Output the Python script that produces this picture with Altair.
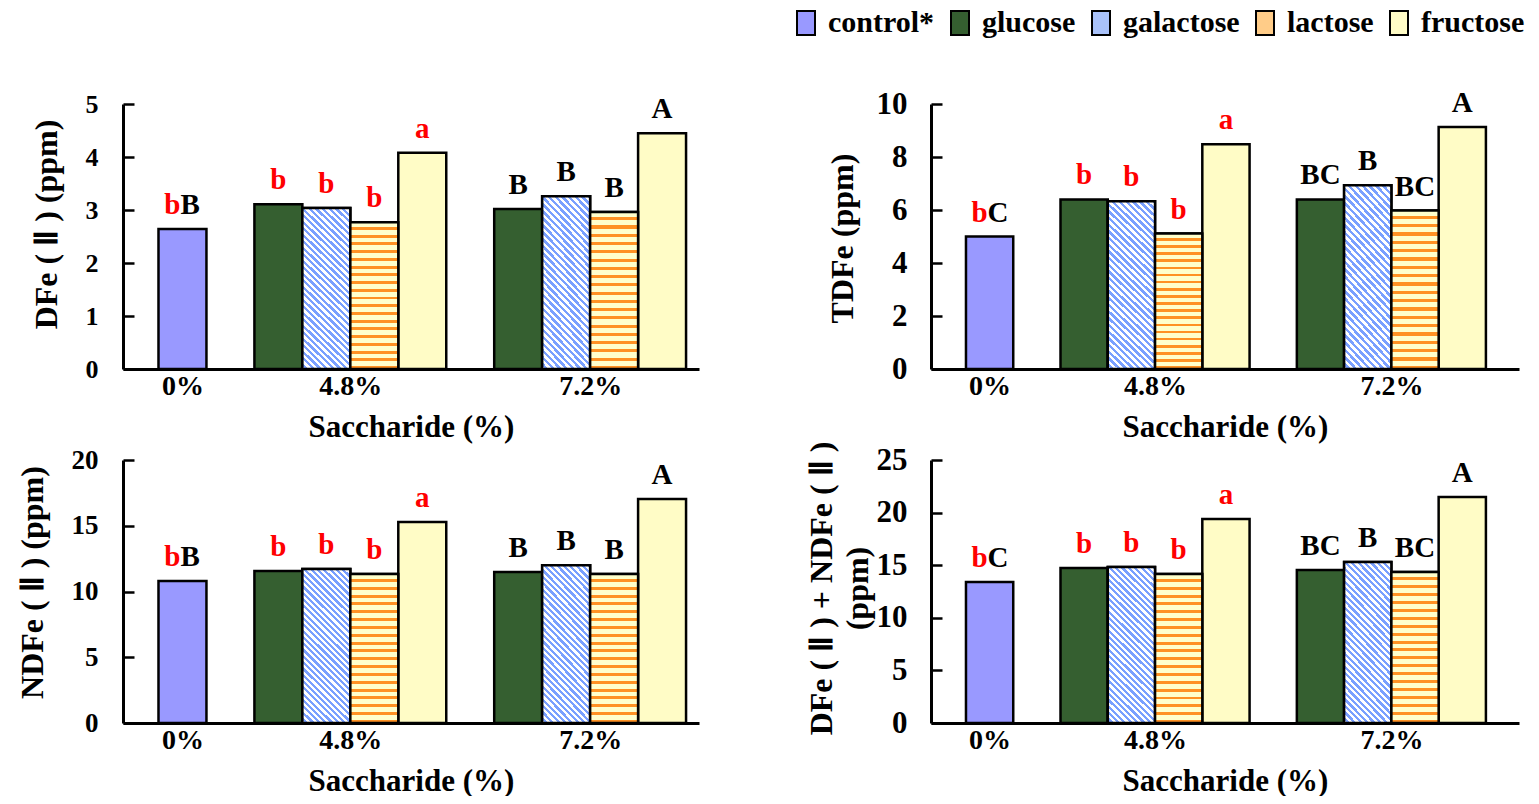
import json
import altair as alt
import pandas as pd

# ---------------- data ----------------
groups = ["0%", "4.8%", "7.2%"]
sugars = ["glucose", "galactose", "lactose", "fructose"]
series = ["control*"] + sugars

dfe_control, dfe_48, dfe_72 = 2.64, [3.11, 3.04, 2.77, 4.08], [3.02, 3.26, 2.96, 4.45]
tdfe_control, tdfe_48, tdfe_72 = 5.00, [6.40, 6.33, 5.11, 8.48], [6.40, 6.93, 5.98, 9.13]
ndfe_control, ndfe_48, ndfe_72 = 10.80, [11.56, 11.71, 11.33, 15.28], [11.48, 12.00, 11.33, 17.03]
sum_control, sum_48, sum_72 = 13.40, [14.73, 14.83, 14.16, 19.39], [14.54, 15.30, 14.35, 21.48]

dfe_let_c, dfe_let_48, dfe_let_72 = ("b", "B"), ["b", "b", "b", "a"], ["B", "B", "B", "A"]
tdfe_let_c, tdfe_let_48, tdfe_let_72 = ("b", "C"), ["b", "b", "b", "a"], ["BC", "B", "BC", "A"]
ndfe_let_c, ndfe_let_48, ndfe_let_72 = ("b", "B"), ["b", "b", "b", "a"], ["B", "B", "B", "A"]
sum_let_c, sum_let_48, sum_let_72 = ("b", "C"), ["b", "b", "b", "a"], ["BC", "B", "BC", "A"]

# ---------------- style ----------------
FONT = "Liberation Serif"
colors = ["#9999FF", "#355F30", "#A9C2FA", "#FFCC88", "#FFFCC6"]


def stripes(light, dark, n, frac_dark):
    stops = []
    for i in range(n):
        a = i / n
        b = (i + 1 - frac_dark) / n
        c = (i + 1) / n
        stops += [alt.GradientStop(color=light, offset=a), alt.GradientStop(color=light, offset=b),
                  alt.GradientStop(color=dark, offset=b), alt.GradientStop(color=dark, offset=c)]
    return stops


lactose_fill = alt.LinearGradient(gradient="linear", stops=stripes("#FFFFCC", "#FF9224", 19, 0.38),
                                  x1=0, y1=0, x2=0, y2=1)


def galactose_fill(r):
    k = (r + 1) / (r * r + 1)
    return alt.LinearGradient(gradient="linear", stops=stripes("#FFFFFF", "#7AA0FF", 32, 0.5),
                              x1=0, y1=1, x2=k * r, y2=1 - k)


slot_expr = (
    f"datum.group == {json.dumps(groups[0])} ? 0 : "
    f"2 + 5 * (indexof({json.dumps(groups)}, datum.group) - 1) + indexof({json.dumps(sugars)}, datum.series)"
)
label_pos = [0, 3.5, 8.5]
label_expr = " : ".join(f"datum.value == {p} ? {json.dumps(g)}" for p, g in zip(label_pos[:-1], groups[:-1])) \
    + f" : {json.dumps(groups[-1])}"


def make_df(c, v48, v72, lc, l48, l72):
    rows = [dict(group=groups[0], series=series[0], value=c, lower=lc[0], upper=lc[1])]
    for s, v, l in zip(sugars, v48, l48):
        rows.append(dict(group=groups[1], series=s, value=v, lower=l, upper=""))
    for s, v, l in zip(sugars, v72, l72):
        rows.append(dict(group=groups[2], series=s, value=v, lower="", upper=l))
    return pd.DataFrame(rows)


def panel(df, ymax, ystep, ytitle, W, H, xmax, tX, tY, gal_r, ylab_size, ylab_pad, legend=False):
    yvals = list(range(0, ymax + 1, ystep))
    yscale = alt.Scale(domain=[0, ymax], nice=False, zero=True, padding=0)
    xscale = alt.Scale(domain=[-1.24, xmax], nice=False, zero=False, padding=0)
    base = alt.Chart(df).transform_calculate(slot=slot_expr).transform_calculate(
        lo="datum.slot - 0.5", hi="datum.slot + 0.5", lab="datum.lower + datum.upper")

    xaxis = alt.Axis(values=label_pos, labelExpr=label_expr, ticks=False, domainColor="black", domainWidth=3,
                     labelFont=FONT, labelFontSize=28, labelFontWeight="bold", labelColor="black",
                     labelPadding=3, labelFlush=False, grid=False,
                     title="Saccharide (%)", titleFont=FONT, titleFontSize=31, titleFontWeight="bold",
                     titleColor="black", titlePadding=12)
    yaxis = alt.Axis(values=yvals, ticks=False, domainColor="black", domainWidth=3, grid=False,
                     labelFont=FONT, labelFontSize=ylab_size, labelFontWeight="bold", labelColor="black",
                     labelPadding=ylab_pad, title=ytitle, titleFont=FONT, titleFontSize=32,
                     titleFontWeight="bold", titleColor="black", titleX=tX, titleY=tY, titleAngle=270,
                     titleBaseline="middle", titleAlign="center", titleLineHeight=36)
    tick_axis = alt.Axis(orient="right", offset=-W, values=yvals, labels=False, domain=False, ticks=True,
                         tickSize=11, tickWidth=2.5, tickColor="black", grid=False, title=None)

    if legend:
        leg = alt.Legend(orient="none", legendX=-140, legendY=-96, direction="horizontal", title=None,
                         padding=0, symbolType="M-0.75,-1H0.75V1H-0.75Z", symbolSize=576,
                         symbolStrokeColor="black", symbolStrokeWidth=2, symbolOpacity=1, labelFont=FONT,
                         labelFontSize=30, labelFontWeight="bold", labelColor="black", labelOffset=7,
                         columnPadding=10, labelLimit=0)
    else:
        leg = None

    X = alt.X("lo:Q", scale=xscale, axis=xaxis)
    bars = base.mark_bar(stroke="black", strokeWidth=2.5, opacity=1).encode(
        x=X, x2="hi:Q",
        y=alt.Y("value:Q", scale=yscale, axis=yaxis), y2=alt.datum(0),
        color=alt.Color("series:N", scale=alt.Scale(domain=series, range=colors), legend=leg),
    )
    gal = base.transform_filter(alt.datum.series == "galactose").mark_bar(
        fill=galactose_fill(gal_r), stroke="black", strokeWidth=2.5).encode(
        x=X, x2="hi:Q",
        y=alt.Y("value:Q", scale=yscale, axis=tick_axis), y2=alt.datum(0))
    lac = base.transform_filter(alt.datum.series == "lactose").mark_bar(
        fill=lactose_fill, stroke="black", strokeWidth=2.5).encode(
        x=X, x2="hi:Q",
        y=alt.Y("value:Q", scale=yscale, axis=None), y2=alt.datum(0))

    XT = alt.X("slot:Q", scale=xscale, axis=xaxis)
    tkw = dict(font=FONT, fontSize=29, fontWeight="bold", baseline="alphabetic", dy=-15)
    t_other = base.transform_filter(alt.datum.group != groups[0]).mark_text(align="center", **tkw).encode(
        x=XT,
        y=alt.Y("value:Q", scale=yscale, axis=None),
        text="lab:N",
        color=alt.condition("datum.lower != ''", alt.value("#FF0000"), alt.value("black")),
    )
    t_cl = base.transform_filter(alt.datum.group == groups[0]).mark_text(
        align="right", dx=-2, color="#FF0000", **tkw).encode(
        x=XT, y=alt.Y("value:Q", scale=yscale, axis=None), text="lower:N")
    t_cu = base.transform_filter(alt.datum.group == groups[0]).mark_text(
        align="left", dx=-2, color="black", **tkw).encode(
        x=XT, y=alt.Y("value:Q", scale=yscale, axis=None), text="upper:N")

    return alt.layer(bars, gal, lac, t_other, t_cl, t_cu).resolve_axis(y="independent").properties(
        width=W, height=H)


p1 = panel(make_df(dfe_control, dfe_48, dfe_72, dfe_let_c, dfe_let_48, dfe_let_72),
           5, 1, "DFe ( Ⅱ ) (ppm)", 576, 265, 10.77, -77, 120, 0.29, 26, 25)
p2 = panel(make_df(tdfe_control, tdfe_48, tdfe_72, tdfe_let_c, tdfe_let_48, tdfe_let_72),
           10, 2, "TDFe (ppm)", 588, 265, 11.2, -89, 134, 0.275, 31, 24, legend=True)
p3 = panel(make_df(ndfe_control, ndfe_48, ndfe_72, ndfe_let_c, ndfe_let_48, ndfe_let_72),
           20, 5, "NDFe ( Ⅱ ) (ppm)", 576, 263, 10.77, -91, 122, 0.31, 27, 25)
p4 = panel(make_df(sum_control, sum_48, sum_72, sum_let_c, sum_let_48, sum_let_72),
           25, 5, ["DFe ( Ⅱ ) + NDFe ( Ⅱ )", "(ppm)"], 588, 263, 11.2, -110, 128, 0.30, 31, 24)

chart = alt.concat(p1, p2, p3, p4, columns=2, spacing={"row": 91, "column": 232}, bounds="flush").resolve_scale(
    color="independent").configure_view(stroke=None).properties(
    padding={"left": 16, "top": 8, "right": 2, "bottom": 0}, background="white")

chart.save("out.html", embed_options={"renderer": "svg", "actions": False})
